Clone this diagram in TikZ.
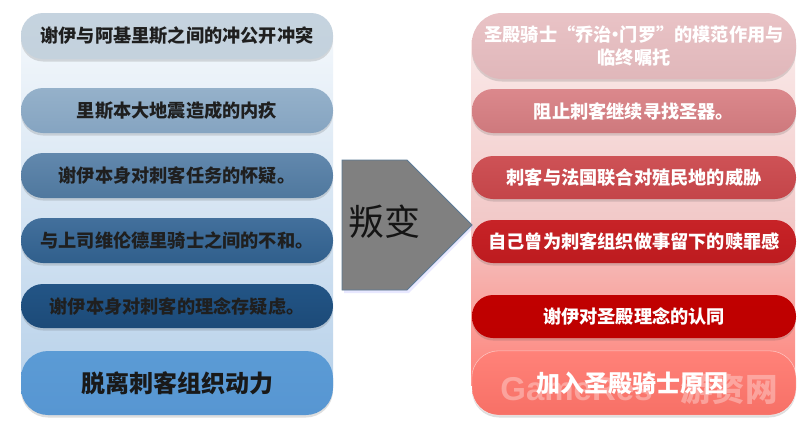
\documentclass[tikz,border=0pt]{standalone}
\usepackage{fontspec}
\setmainfont{Noto Sans CJK SC}
\newfontfamily\wmfont{Liberation Sans}
\usetikzlibrary{shadows,shapes.misc}
\tikzset{
  x=1pt,y=-1pt,
  pill/.style n args={6}{draw=none,inner sep=0pt,minimum width=#1pt,minimum height=#2pt,
    rounded corners=#3pt,top color=#4,bottom color=#5,align=center,text=#6,
    font=\bfseries\fontsize{18.2}{25}\selectfont,
    drop shadow={shadow xshift=0pt,shadow yshift=-2.5pt,opacity=.18,fill=black!70}},
  panel/.style={inner sep=0pt,draw=none},
  watermark/.style={inner sep=0pt,text=white,opacity=.33},
}
\definecolor{lA}{HTML}{C5D3DF}\definecolor{lB}{HTML}{C4D2DD}
\definecolor{lC}{HTML}{95B1CA}\definecolor{lD}{HTML}{85A4C1}
\definecolor{lE}{HTML}{6288AD}\definecolor{lF}{HTML}{4F789E}
\definecolor{lG}{HTML}{43709C}\definecolor{lH}{HTML}{305F8C}
\definecolor{lI}{HTML}{235586}\definecolor{lJ}{HTML}{1C4A78}
\definecolor{lK}{HTML}{5B9BD5}\definecolor{lL}{HTML}{5796D2}
\definecolor{rA}{HTML}{E9C3C6}\definecolor{rB}{HTML}{E0B7BA}
\definecolor{rC}{HTML}{DB888C}\definecolor{rD}{HTML}{CE797D}
\definecolor{rE}{HTML}{CE5256}\definecolor{rF}{HTML}{C44549}
\definecolor{rG}{HTML}{C72327}\definecolor{rH}{HTML}{BD1B1F}
\definecolor{rI}{HTML}{C00000}\definecolor{rJ}{HTML}{BE0000}
\definecolor{rK}{HTML}{FF8279}\definecolor{rL}{HTML}{F77066}
\definecolor{arrowfill}{HTML}{808080}\definecolor{arrowline}{HTML}{5B7A96}
\definecolor{HTMLb}{HTML}{B9D2EA}
\definecolor{rmid}{HTML}{F2C9C8}
\begin{document}
\begin{tikzpicture}
\useasboundingbox (0,0) rectangle (805,423);
\fill[white] (0,0) rectangle (805,423);
% panels
\node[panel,minimum width=312pt,minimum height=345pt,top color=HTMLb!20!white,bottom color=HTMLb] (lpanel) at (177,212.5) {};
\node[panel,minimum width=324pt,minimum height=180pt,top color=rmid!40!white,bottom color=rmid] (rpanelA) at (633,130) {};
\node[panel,minimum width=324pt,minimum height=165pt,top color=rmid,bottom color=rK] (rpanelB) at (633,302.5) {};
% left pills
\node[pill={312}{46}{22}{lA}{lB}{black!88}] (l1) at (177,36) {谢伊与阿基里斯之间的冲公开冲突};
\node[pill={312}{45}{22}{lC}{lD}{black!88}] (l2) at (177,110.5) {里斯本大地震造成的内疚};
\node[pill={312}{45}{22}{lE}{lF}{black!88}] (l3) at (177,175.5) {谢伊本身对刺客任务的怀疑。};
\node[pill={312}{45}{22}{lG}{lH}{black!88}] (l4) at (177,240.5) {与上司维伦德里骑士之间的不和。};
\node[pill={312}{44}{22}{lI}{lJ}{black!88}] (l5) at (177,306) {谢伊本身对刺客的理念存疑虑。};
\node[pill={312}{64}{27}{lK}{lL}{black!90},font=\bfseries\fontsize{24}{28}\selectfont] (l6) at (177,383) {脱离刺客组织动力};
% right pills
\node[pill={324}{66}{30}{rA}{rB}{white},font=\bfseries\fontsize{18.2}{23}\selectfont] (r1) at (634,46) {圣殿骑士“乔治\makebox[8pt]{•}门罗”的模范作用与\\临终嘱托};
\node[pill={324}{44}{21}{rC}{rD}{white}] (r2) at (634,111) {阻止刺客继续寻找圣器。};
\node[pill={324}{43}{21}{rE}{rF}{white}] (r3) at (634,177.5) {刺客与法国联合对殖民地的威胁};
\node[pill={324}{43}{21}{rG}{rH}{white}] (r4) at (634,241.5) {自己曾为刺客组织做事留下的赎罪感};
\node[pill={324}{43}{21}{rI}{rJ}{white}] (r5) at (634,316.5) {谢伊对圣殿理念的认同};
\node[pill={324}{64}{27}{rK}{rL}{white},font=\bfseries\fontsize{24}{28}\selectfont] (r6) at (634,383) {\raisebox{2pt}{加入圣殿骑士原因}\hspace{4pt}};
\draw[white,opacity=.45,line width=.6pt,rounded corners=27pt] (r6.south west) rectangle (r6.north east);
% arrow
\coordinate (a1) at (342,160);\coordinate (a2) at (407,160);\coordinate (a3) at (472,225);
\coordinate (a4) at (407,290);\coordinate (a5) at (342,290);
\fill[white!75!blue,opacity=.35] (344,163) -- (409,163) -- (474,227) -- (409,293) -- (344,293) -- cycle;
\draw[draw=arrowline,fill=arrowfill,line width=.8pt] (a1) -- (a2) -- (a3) -- (a4) -- (a5) -- cycle;
\node[inner sep=0pt,font=\fontsize{36}{40}\selectfont,text=black!92] (t) at (384,222) {叛变};
% watermark
\node[watermark,font=\wmfont\bfseries\fontsize{33}{36}\selectfont] (w1) at (576.5,389) {GameRes};
\node[watermark,font=\bfseries\fontsize{32.5}{36}\selectfont] (w2) at (729,389) {游资网};
\end{tikzpicture}
\end{document}
